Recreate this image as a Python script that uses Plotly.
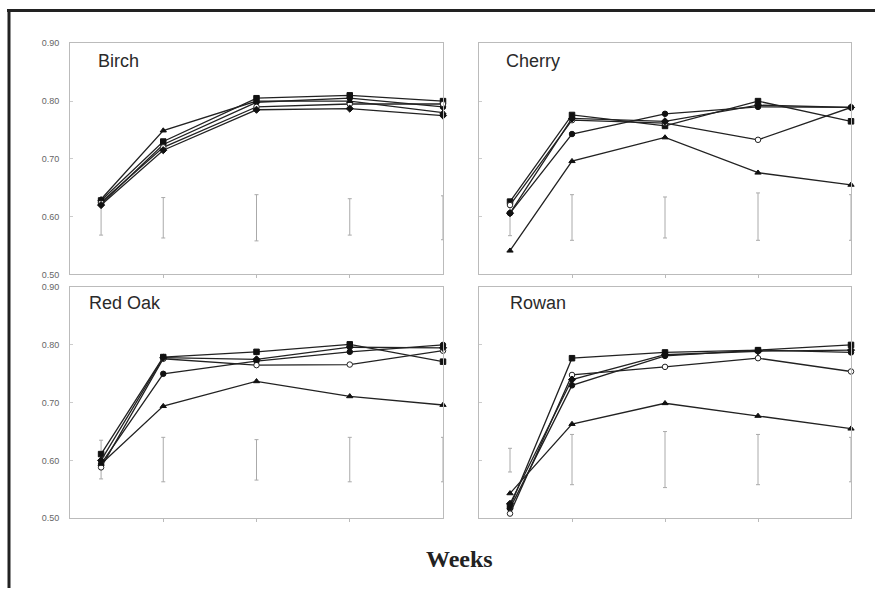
import plotly.graph_objects as go

# ---------------- data ----------------
weeks = [1, 3, 6, 9, 12]
panel_names = ["Birch", "Cherry", "Red Oak", "Rowan"]
y_tickvals = [0.5, 0.6, 0.7, 0.8, 0.9]
y_ticktext = ["0.50", "0.60", "0.70", "0.80", "0.90"]
x_axis_title = "Weeks"

# Birch
birch_s1 = [0.628, 0.730, 0.805, 0.810, 0.800]
birch_s2 = [0.622, 0.725, 0.798, 0.805, 0.790]
birch_s3 = [0.625, 0.720, 0.790, 0.795, 0.795]
birch_s4 = [0.630, 0.749, 0.800, 0.800, 0.780]
birch_s5 = [0.620, 0.715, 0.785, 0.787, 0.775]
birch_lo = [0.568, 0.563, 0.558, 0.568, 0.560]
birch_hi = [0.632, 0.633, 0.638, 0.631, 0.636]

# Cherry
cherry_s1 = [0.626, 0.776, 0.757, 0.800, 0.765]
cherry_s2 = [0.606, 0.743, 0.778, 0.790, 0.789]
cherry_s3 = [0.620, 0.767, 0.762, 0.733, 0.789]
cherry_s4 = [0.541, 0.696, 0.737, 0.676, 0.655]
cherry_s5 = [0.606, 0.770, 0.765, 0.793, 0.789]
cherry_lo = [0.567, 0.559, 0.563, 0.559, 0.559]
cherry_hi = [0.628, 0.638, 0.634, 0.641, 0.638]

# Red Oak
redoak_s1 = [0.611, 0.779, 0.788, 0.801, 0.771]
redoak_s2 = [0.594, 0.750, 0.772, 0.788, 0.800]
redoak_s3 = [0.588, 0.776, 0.765, 0.766, 0.790]
redoak_s4 = [0.594, 0.694, 0.737, 0.711, 0.696]
redoak_s5 = [0.600, 0.778, 0.775, 0.796, 0.795]
redoak_lo = [0.568, 0.563, 0.566, 0.563, 0.563]
redoak_hi = [0.635, 0.640, 0.636, 0.640, 0.640]

# Rowan
rowan_s1 = [0.520, 0.777, 0.787, 0.791, 0.800]
rowan_s2 = [0.517, 0.730, 0.781, 0.791, 0.787]
rowan_s3 = [0.508, 0.748, 0.762, 0.777, 0.754]
rowan_s4 = [0.543, 0.663, 0.699, 0.677, 0.655]
rowan_s5 = [0.525, 0.740, 0.783, 0.789, 0.791]
rowan_lo = [0.580, 0.558, 0.553, 0.558, 0.563]
rowan_hi = [0.621, 0.645, 0.650, 0.645, 0.640]

panel_series = [
    [birch_s1, birch_s2, birch_s3, birch_s4, birch_s5],
    [cherry_s1, cherry_s2, cherry_s3, cherry_s4, cherry_s5],
    [redoak_s1, redoak_s2, redoak_s3, redoak_s4, redoak_s5],
    [rowan_s1, rowan_s2, rowan_s3, rowan_s4, rowan_s5],
]
panel_bars = [
    (birch_lo, birch_hi),
    (cherry_lo, cherry_hi),
    (redoak_lo, redoak_hi),
    (rowan_lo, rowan_hi),
]

# ---------------- styling ----------------
W, H = 875, 593
marker_styles = [
    dict(symbol="square", size=5.5, color="#111", line=dict(color="#111", width=1)),
    dict(symbol="circle", size=5.5, color="#111", line=dict(color="#111", width=1)),
    dict(symbol="circle", size=5.5, color="white", line=dict(color="#222", width=1)),
    dict(symbol="triangle-up", size=5.5, color="#111", line=dict(color="#111", width=1)),
    dict(symbol="diamond", size=5.5, color="#111", line=dict(color="#111", width=1)),
]

# panel boxes in pixels (left, right, top, bottom)
boxes = [(70, 443, 39, 274), (479, 851, 39, 274), (70, 443, 287, 522), (479, 851, 287, 522)]

fig = go.Figure()
layout = dict(
    width=W, height=H,
    margin=dict(l=0, r=0, t=0, b=0),
    paper_bgcolor="white", plot_bgcolor="white",
    showlegend=False,
    font=dict(family="Liberation Sans, Arial", color="#555"),
)

for i in range(4):
    n = "" if i == 0 else str(i + 1)
    xa, ya = "x" + n, "y" + n
    l, r, t, b = boxes[i]
    layout["xaxis" + n] = dict(
        domain=[l / W, r / W], range=[0, 12], anchor=ya,
        showgrid=False, zeroline=False, showline=True, mirror=True,
        linecolor="#bbb", linewidth=1,
        tickvals=[3, 6, 9], showticklabels=False,
        ticks="outside", ticklen=3, tickcolor="#bbb",
    )
    layout["yaxis" + n] = dict(
        domain=[1 - b / H, 1 - t / H], range=[0.5, 0.9], anchor=xa,
        showgrid=False, zeroline=False, showline=True, mirror=True,
        linecolor="#bbb", linewidth=1,
        tickvals=y_tickvals, ticktext=y_ticktext,
        showticklabels=(i % 2 == 0),
        tickfont=dict(size=9, color="#666", family="Liberation Sans, Arial"),
        ticks="inside", ticklen=3, tickcolor="#ccc",
        ticklabelstandoff=8,
    )

    lo, hi = panel_bars[i]
    centers = [(a + c) / 2 for a, c in zip(lo, hi)]
    errs = [c2 - c for c, c2 in zip(centers, hi)]
    fig.add_trace(go.Scatter(
        x=weeks, y=centers, xaxis=xa, yaxis=ya, mode="markers",
        marker=dict(size=1, color="rgba(0,0,0,0)"),
        error_y=dict(type="data", array=errs, visible=True,
                     color="#aaa", thickness=1, width=2),
        cliponaxis=False, hoverinfo="skip",
    ))

    for s, ms in zip(panel_series[i], marker_styles):
        fig.add_trace(go.Scatter(
            x=weeks, y=s, xaxis=xa, yaxis=ya, mode="lines+markers",
            line=dict(color="#222", width=1.3),
            marker=ms, cliponaxis=False,
        ))

annotations = []
title_pos = [(96, 57), (504, 57), (87, 303), (508, 303)]
for name, (px, py) in zip(panel_names, title_pos):
    annotations.append(dict(
        x=px / W, y=1 - py / H, xref="paper", yref="paper",
        xanchor="left", yanchor="middle", showarrow=False,
        text=name, font=dict(size=18, color="#2a2a2a", family="Liberation Sans, Arial"),
    ))
annotations.append(dict(
    x=459 / W, y=1 - 563 / H, xref="paper", yref="paper",
    xanchor="center", yanchor="middle", showarrow=False,
    text="<b>" + x_axis_title + "</b>",
    font=dict(size=24, color="#222", family="Liberation Serif, Times New Roman"),
))
layout["annotations"] = annotations

layout["shapes"] = [
    dict(type="line", xref="paper", yref="paper", x0=7 / W, x1=1, y0=1 - 5.5 / H, y1=1 - 5.5 / H,
         line=dict(color="#222", width=3)),
    dict(type="line", xref="paper", yref="paper", x0=9 / W, x1=9 / W, y0=0, y1=1 - 4 / H,
         line=dict(color="#222", width=3)),
]

fig.update_layout(**layout)
fig.write_html(
    "out.html",
    config={"displayModeBar": False},
    post_script="document.body.style.margin='0';document.body.style.overflow='hidden';",
)
